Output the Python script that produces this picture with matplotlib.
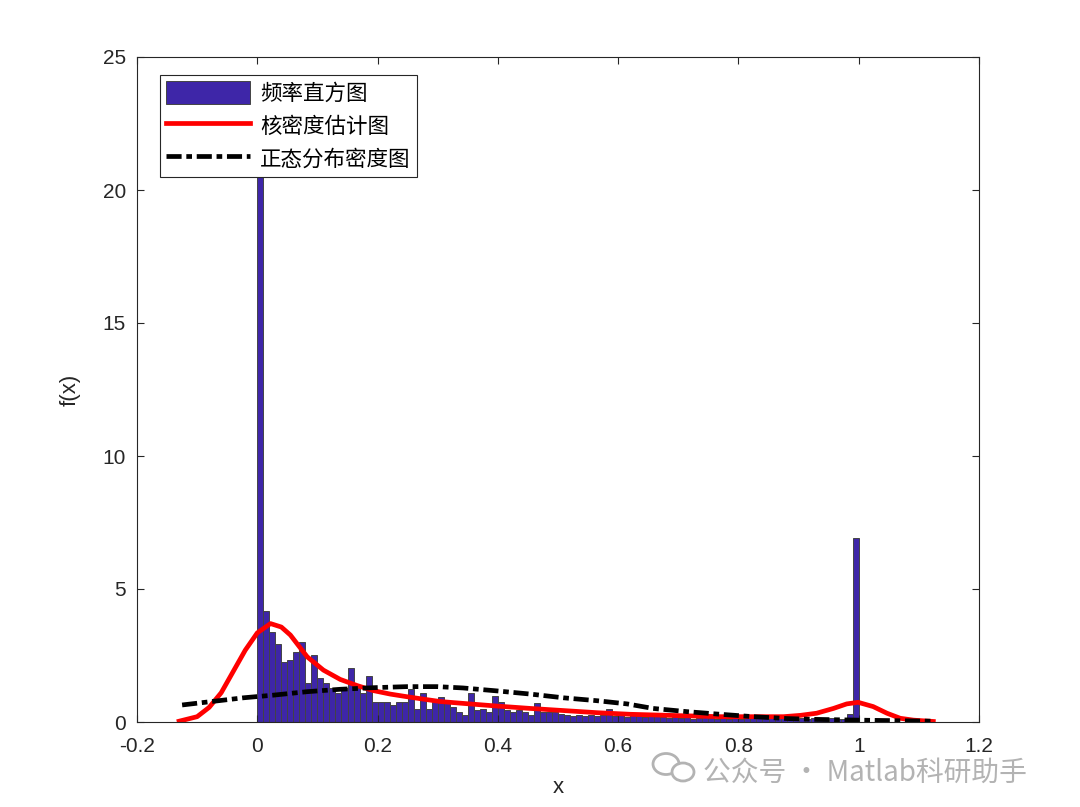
import numpy as np
import matplotlib.pyplot as plt
from matplotlib.patches import Ellipse

plt.rcParams['font.family'] = ['Liberation Sans', 'DejaVu Sans']

# histogram heights (density), bins of width 0.01 from 0 to 1
bin_edges = np.linspace(0, 1, 101)
hist_heights = [
    20.8, 4.17, 3.40, 2.92, 2.24, 2.33, 2.62, 3.00, 1.45, 2.52,
    1.66, 1.45, 1.29, 1.08, 1.27, 2.03, 1.28, 1.08, 1.74, 0.76,
    0.76, 0.76, 0.64, 0.76, 0.76, 1.23, 0.49, 1.08, 0.49, 0.76,
    0.95, 0.76, 0.58, 0.39, 0.26, 1.08, 0.45, 0.48, 0.39, 0.98,
    0.76, 0.45, 0.39, 0.45, 0.39, 0.26, 0.70, 0.39, 0.39, 0.39,
    0.30, 0.26, 0.22, 0.26, 0.22, 0.26, 0.22, 0.26, 0.48, 0.22,
    0.30, 0.18, 0.26, 0.22, 0.18, 0.26, 0.22, 0.18, 0.15, 0.18,
    0.15, 0.18, 0.12, 0.15, 0.18, 0.15, 0.12, 0.15, 0.11, 0.15,
    0.12, 0.15, 0.18, 0.15, 0.22, 0.22, 0.18, 0.22, 0.15, 0.12,
    0.15, 0.11, 0.15, 0.12, 0.11, 0.15, 0.12, 0.11, 0.30, 6.92,
]

# kernel density curve
kde_x = [-0.130, -0.100, -0.080, -0.060, -0.040, -0.020, 0.000, 0.022, 0.040,
         0.055, 0.083, 0.110, 0.138, 0.166, 0.193, 0.221, 0.249, 0.276, 0.304,
         0.342, 0.398, 0.454, 0.509, 0.565, 0.620, 0.700, 0.770, 0.820, 0.875,
         0.903, 0.930, 0.958, 0.980, 0.999, 1.024, 1.047, 1.069, 1.091, 1.124]
kde_y = [0.03, 0.20, 0.55, 1.10, 1.90, 2.70, 3.35, 3.70, 3.57,
         3.27, 2.45, 1.95, 1.60, 1.37, 1.18, 1.05, 0.95, 0.86, 0.77,
         0.70, 0.60, 0.51, 0.43, 0.35, 0.29, 0.24, 0.20, 0.20, 0.20,
         0.25, 0.33, 0.51, 0.68, 0.74, 0.58, 0.33, 0.14, 0.07, 0.02]

# normal density curve
norm_x = [-0.125, -0.023, 0.027, 0.083, 0.138, 0.193, 0.249, 0.299, 0.342,
          0.398, 0.454, 0.509, 0.565, 0.615, 0.658, 0.714, 0.770, 0.825,
          0.881, 0.925, 1.000, 1.060, 1.125]
norm_y = [0.64, 0.91, 1.01, 1.14, 1.23, 1.29, 1.33, 1.33, 1.28,
          1.17, 1.05, 0.91, 0.80, 0.68, 0.51, 0.39, 0.29, 0.20,
          0.13, 0.10, 0.07, 0.05, 0.03]

fig = plt.figure(figsize=(10.8, 8.07), dpi=100)
ax = fig.add_axes([137 / 1080, 85 / 807, 842 / 1080, 665 / 807])

widths = np.diff(bin_edges)
bars = ax.bar(bin_edges[:-1], hist_heights, width=widths, align='edge',
              color='#3E26A8', edgecolor='#444444', linewidth=0.7)
l1, = ax.plot(kde_x, kde_y, color='red', lw=3.4, solid_joinstyle='round')
l2, = ax.plot(norm_x, norm_y, color='black', lw=3.4,
              dashes=(3.2, 1.0, 1.2, 1.0))

ax.set_xlim(-0.2, 1.2)
ax.set_ylim(0, 25)
ax.set_xticks([-0.2, 0, 0.2, 0.4, 0.6, 0.8, 1, 1.2])
ax.set_xticklabels(['-0.2', '0', '0.2', '0.4', '0.6', '0.8', '1', '1.2'])
ax.set_yticks([0, 5, 10, 15, 20, 25])
ax.tick_params(direction='in', top=True, right=True, length=5, width=0.8,
               labelsize=15, colors='#262626')
ax.tick_params(axis='x', pad=11)
ax.tick_params(axis='y', pad=8)
for s in ax.spines.values():
    s.set_color('#262626')
    s.set_linewidth(0.8)

ax.set_xlabel('x', fontsize=16, color='#262626', labelpad=15)
ax.set_ylabel('f(x)', fontsize=16, color='#262626', labelpad=16)

leg = ax.legend([bars, l1, l2], ['频率直方图', '核密度估计图', '正态分布密度图'],
                loc='upper left', bbox_to_anchor=(23 / 842, 1 - 18 / 665),
                borderaxespad=0, fancybox=False, framealpha=1,
                edgecolor='#262626', handlelength=3.9, handleheight=1.25,
                handletextpad=0.45, borderpad=0.3, labelspacing=0.42,
                prop={'family': ['Noto Sans CJK SC', 'DejaVu Sans'], 'size': 15.5})
leg.get_frame().set_linewidth(0.8)

# watermark
fig.text(703 / 1080, 1 - 781 / 807, '公众号 · Matlab科研助手', color='#b3b3b3',
         fontsize=20, family=['Noto Sans CJK SC', 'DejaVu Sans'], va='baseline')
fig.patches.append(Ellipse((666 / 1080, 1 - 764 / 807), 26 / 1080, 21 / 807,
                           transform=fig.transFigure, fill=False,
                           edgecolor='#b3b3b3', lw=2))
fig.patches.append(Ellipse((683 / 1080, 1 - 772 / 807), 22 / 1080, 18 / 807,
                           transform=fig.transFigure, facecolor='white',
                           edgecolor='#b3b3b3', lw=2))

fig.savefig('out.png', dpi=100, facecolor='white')
